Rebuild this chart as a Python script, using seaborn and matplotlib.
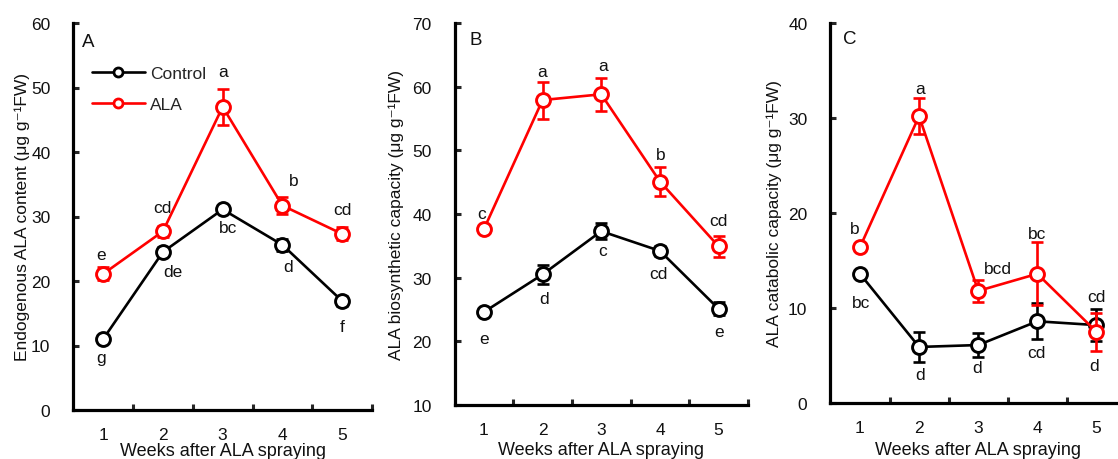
import numpy as np
import pandas as pd
import matplotlib
matplotlib.use("Agg")
import matplotlib.pyplot as plt
import seaborn as sns
from matplotlib.lines import Line2D

# ---------------- data ----------------
weeks = [1, 2, 3, 4, 5]
groups = ["Control", "ALA"]

a_control = [11.0, 24.5, 31.1, 25.6, 16.9]
a_control_err = [0.4, 0.7, 0.5, 0.9, 0.7]
a_ala = [21.1, 27.7, 47.0, 31.7, 27.3]
a_ala_err = [1.0, 0.9, 2.8, 1.3, 1.0]
a_control_letters = ["g", "de", "bc", "d", "f"]
a_ala_letters = ["e", "cd", "a", "b", "cd"]

b_control = [24.6, 30.5, 37.3, 34.2, 25.1]
b_control_err = [0.4, 1.5, 1.3, 0.8, 1.0]
b_ala = [37.6, 57.9, 58.8, 45.1, 34.9]
b_ala_err = [0.4, 2.9, 2.6, 2.3, 1.7]
b_control_letters = ["e", "d", "c", "cd", "e"]
b_ala_letters = ["c", "a", "a", "b", "cd"]

c_control = [13.6, 5.9, 6.1, 8.6, 8.2]
c_control_err = [0.3, 1.6, 1.3, 1.9, 1.7]
c_ala = [16.4, 30.2, 11.8, 13.6, 7.5]
c_ala_err = [0.4, 1.9, 1.2, 3.3, 2.0]
c_control_letters = ["bc", "d", "d", "cd", "cd"]
c_ala_letters = ["b", "a", "bcd", "bc", "d"]

panel_names = ["A", "B", "C"]
ylabels = ["Endogenous ALA content (μg g⁻¹FW)",
           "ALA biosynthetic capacity (μg g⁻¹FW)",
           "ALA catabolic capacity (μg g⁻¹FW)"]
xlabel = "Weeks after ALA spraying"
yticks_list = [[0, 10, 20, 30, 40, 50, 60],
               [10, 20, 30, 40, 50, 60, 70],
               [0, 10, 20, 30, 40]]

# ---------------- layout / style ----------------
W, H = 1118, 460
axes_px = [(73.3, 372, 411, 24), (454.5, 748, 406, 24), (830.4, 1126, 404, 24)]
ylabel_x = [-0.145, -0.172, -0.164]
xlabel_y = [-0.082, -0.094, -0.100]
panel_xy = [(0.049, 0.953), (0.073, 0.958), (0.064, 0.958)]
# letter offsets in pixels (dx right, dy down) relative to point
ctrl_off = [
    [(-2, 18), (10, 20), (5, 18), (6, 22), (0, 26)],
    [(0, 26), (2, 24), (1, 19), (-2, 23), (0, 23)],
    [(1, 29), (1, 28), (-1, 22), (-1, 31), (0, -29)],
]
ala_off = [
    [(-2, -19), (0, -24), (0, -35), (11, -25), (0, -24)],
    [(-2, -16), (0, -29), (2, -29), (1, -27), (0, -26)],
    [(-5, -19), (1, -28), (20, -22), (0, -40), (-2, 34)],
]
colors = {"Control": "black", "ALA": "#ff0000"}
txt_color = "#111111"

sns.set_style("ticks")
plt.rcParams["font.family"] = ["Liberation Sans", "DejaVu Sans"]

fig = plt.figure(figsize=(W / 100, H / 100), dpi=100)

panels = [
    (a_control, a_control_err, a_ala, a_ala_err, a_control_letters, a_ala_letters),
    (b_control, b_control_err, b_ala, b_ala_err, b_control_letters, b_ala_letters),
    (c_control, c_control_err, c_ala, c_ala_err, c_control_letters, c_ala_letters),
]

px2pt = 72 / 100

for i, (cv, ce, av, ae, cl, al) in enumerate(panels):
    l, r, b, t = axes_px[i]
    ax = fig.add_axes([l / W, (H - b) / H, (r - l) / W, (b - t) / H])

    df = pd.DataFrame({
        "Week": weeks * 2,
        "Value": cv + av,
        "Group": ["Control"] * 5 + ["ALA"] * 5,
    })

    # error bars
    ax.errorbar(weeks, cv, yerr=ce, fmt="none", ecolor=colors["Control"],
                elinewidth=1.9, capsize=4.6, capthick=1.9, zorder=2)
    ax.errorbar(weeks, av, yerr=ae, fmt="none", ecolor=colors["ALA"],
                elinewidth=1.9, capsize=4.6, capthick=1.9, zorder=4)

    n_before = len(ax.lines)
    sns.lineplot(data=df, x="Week", y="Value", hue="Group", hue_order=groups,
                 palette=colors, marker="o", markersize=10, linewidth=1.9,
                 legend=False, ax=ax, errorbar=None, sort=True)
    for k, ln in enumerate(ax.lines[n_before:]):
        c = ln.get_color()
        ln.set_markerfacecolor("white")
        ln.set_markeredgecolor(c)
        ln.set_markeredgewidth(2.1)
        ln.set_zorder(3 if k == 0 else 5)

    # letters
    for j, w in enumerate(weeks):
        dx, dy = ctrl_off[i][j]
        ax.annotate(cl[j], (w, cv[j]), xytext=(dx * px2pt, -dy * px2pt),
                    textcoords="offset points", ha="center", va="center",
                    fontsize=12.5, color=txt_color)
        dx, dy = ala_off[i][j]
        ax.annotate(al[j], (w, av[j]), xytext=(dx * px2pt, -dy * px2pt),
                    textcoords="offset points", ha="center", va="center",
                    fontsize=12.5, color=txt_color)

    yt = yticks_list[i]
    ax.set_xlim(0.5, 5.5)
    ax.set_ylim(yt[0], yt[-1])
    ax.set_yticks(yt)
    ax.set_xticks(weeks)
    ax.set_xticks([1.5, 2.5, 3.5, 4.5, 5.5], minor=True)
    ax.tick_params(axis="x", which="major", length=0, pad=12, labelsize=12.5,
                   labelcolor=txt_color)
    ax.tick_params(axis="x", which="minor", direction="in", length=4, width=2.2)
    ax.tick_params(axis="y", which="major", direction="in", length=4, width=2.2,
                   pad=16.5, labelsize=12.5, labelcolor=txt_color)
    for s in ["top", "right"]:
        ax.spines[s].set_visible(False)
    for s in ["left", "bottom"]:
        ax.spines[s].set_linewidth(2.3)
        ax.spines[s].set_color("black")

    ax.set_ylabel(ylabels[i], fontsize=12.5, color=txt_color)
    ax.yaxis.set_label_coords(ylabel_x[i], 0.5)
    ax.set_xlabel(xlabel, fontsize=13, color=txt_color)
    ax.xaxis.set_label_coords(0.5, xlabel_y[i])
    ax.set_facecolor("none")

    ax.text(panel_xy[i][0], panel_xy[i][1], panel_names[i], transform=ax.transAxes,
            ha="center", va="center", fontsize=13.5, color=txt_color)

    if i == 0:
        handles = [Line2D([], [], color=colors[g], marker="o", markersize=6.5,
                          markerfacecolor="white", markeredgecolor=colors[g],
                          markeredgewidth=2.0, linewidth=1.9) for g in groups]
        ax.legend(handles, groups, loc="upper left", bbox_to_anchor=(0.0626, 0.889),
                  frameon=False, fontsize=12.5, handlelength=3.05,
                  handletextpad=0.29, labelspacing=0.92, borderpad=0,
                  borderaxespad=0)

fig.patch.set_facecolor("white")
fig.savefig("out.png", dpi=100, facecolor="white")
